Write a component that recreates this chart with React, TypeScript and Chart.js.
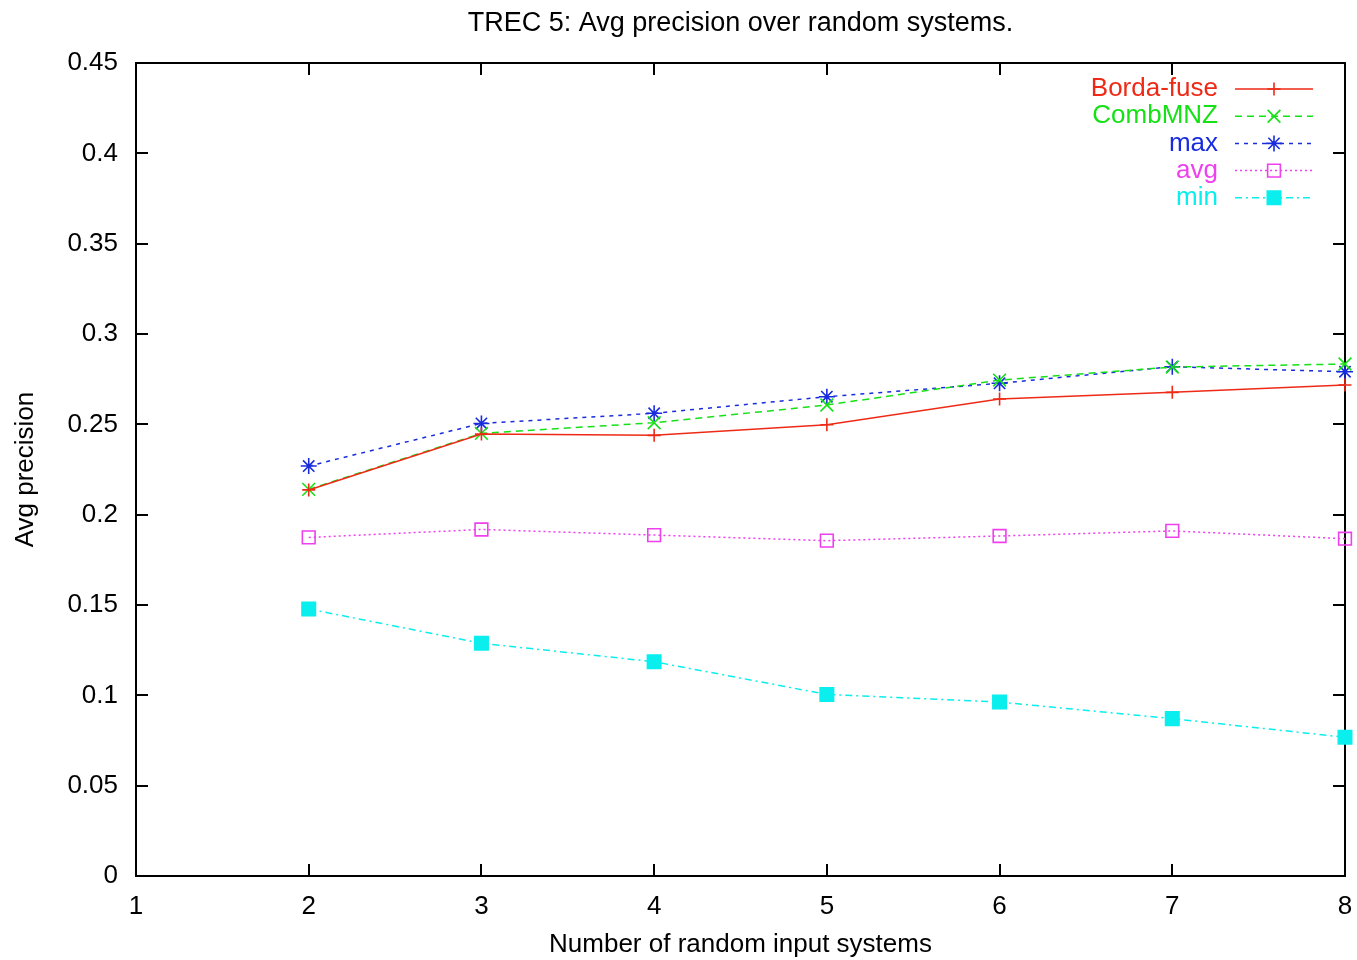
import React, { useEffect, useRef } from 'react';
import { Chart, registerables } from 'chart.js';
import { drawPoint } from 'chart.js/helpers';

Chart.register(...registerables);

const FONT = '"Liberation Sans", Arial, Helvetica, sans-serif';
const FONT_SIZE = 26;
const TITLE_SIZE = 27;

const chartTitle = 'TREC 5: Avg precision over random systems.';
const xAxisTitle = 'Number of random input systems';
const yAxisTitle = 'Avg precision';

const numSystems = [2, 3, 4, 5, 6, 7, 8];
const bordaFuse = [0.2137, 0.2446, 0.2439, 0.2498, 0.2640, 0.2677, 0.2718];
const combMNZ = [0.2140, 0.2450, 0.2509, 0.2607, 0.2745, 0.2817, 0.2834];
const maxVals = [0.2269, 0.2505, 0.2561, 0.2653, 0.2727, 0.2819, 0.2791];
const avgVals = [0.1874, 0.1918, 0.1887, 0.1856, 0.1882, 0.1910, 0.1867];
const minVals = [0.1478, 0.1288, 0.1186, 0.1005, 0.0963, 0.0871, 0.0768];

const xMin = 1;
const xMax = 8;
const yMin = 0;
const yMax = 0.45;
const yStep = 0.05;

const toPoints = (vals: number[]) => numSystems.map((x, i) => ({ x, y: vals[i] }));

const gnuplotPlugin = {
  id: 'gnuplotFrame',
  beforeDatasetsDraw(chart: any) {
    const { ctx, chartArea } = chart;
    const { left, right, top, bottom } = chartArea;
    const xs = chart.scales.x;
    const ys = chart.scales.y;
    const L = 12;
    ctx.save();
    ctx.strokeStyle = '#000';
    ctx.lineWidth = 2;
    ctx.strokeRect(left, top, right - left, bottom - top);
    ctx.beginPath();
    xs.ticks.forEach((t: any) => {
      const px = Math.round(xs.getPixelForValue(t.value));
      ctx.moveTo(px, bottom);
      ctx.lineTo(px, bottom - L);
      ctx.moveTo(px, top);
      ctx.lineTo(px, top + L);
    });
    ys.ticks.forEach((t: any) => {
      const py = Math.round(ys.getPixelForValue(t.value));
      ctx.moveTo(left, py);
      ctx.lineTo(left + L, py);
      ctx.moveTo(right, py);
      ctx.lineTo(right - L, py);
    });
    ctx.stroke();
    ctx.restore();
  },
  afterDraw(chart: any) {
    const { ctx, chartArea } = chart;
    const { left, right, top } = chartArea;
    ctx.save();
    ctx.font = `${TITLE_SIZE}px ${FONT}`;
    ctx.fillStyle = '#000';
    ctx.textAlign = 'center';
    ctx.textBaseline = 'alphabetic';
    ctx.fillText(chartTitle, (left + right) / 2, 31);

    chart.data.datasets.forEach((ds: any, i: number) => {
      const y = top + 26 + i * 27.2;
      ctx.font = `${FONT_SIZE}px ${FONT}`;
      ctx.fillStyle = ds.borderColor;
      ctx.textAlign = 'right';
      ctx.textBaseline = 'middle';
      ctx.fillText(ds.label, right - 127, y);
      ctx.strokeStyle = ds.borderColor;
      ctx.lineWidth = ds.borderWidth;
      ctx.setLineDash(ds.borderDash || []);
      ctx.beginPath();
      ctx.moveTo(right - 110, y);
      ctx.lineTo(right - 32, y);
      ctx.stroke();
      ctx.setLineDash([]);
      ctx.fillStyle = ds.pointBackgroundColor;
      ctx.strokeStyle = ds.pointBorderColor;
      ctx.lineWidth = ds.pointBorderWidth;
      drawPoint(
        ctx,
        {
          pointStyle: ds.pointStyle,
          radius: ds.pointRadius,
          rotation: 0,
          borderWidth: ds.pointBorderWidth,
        } as any,
        right - 71,
        y
      );
    });
    ctx.restore();
  },
};

export default function App() {
  const canvasRef = useRef<HTMLCanvasElement | null>(null);

  useEffect(() => {
    const canvas = canvasRef.current;
    if (!canvas) return;
    const mk = (
      label: string,
      vals: number[],
      color: string,
      dash: number[],
      pointStyle: string,
      radius: number,
      fill: string
    ) => ({
      label,
      data: toPoints(vals),
      borderColor: color,
      backgroundColor: color,
      borderWidth: 1.5,
      borderDash: dash,
      pointStyle,
      pointRadius: radius,
      pointBorderWidth: 1.6,
      pointBorderColor: color,
      pointBackgroundColor: fill,
      tension: 0,
      fill: false,
      clip: false as any,
    });

    const chart = new Chart(canvas, {
      type: 'line',
      data: {
        datasets: [
          mk('Borda-fuse', bordaFuse, 'rgb(238,42,22)', [], 'cross', 6.5, 'rgb(238,42,22)'),
          mk('CombMNZ', combMNZ, 'rgb(22,224,22)', [7, 5], 'crossRot', 9, 'rgb(22,224,22)'),
          mk('max', maxVals, 'rgb(24,44,222)', [4, 5], 'star', 8, 'rgb(24,44,222)'),
          mk('avg', avgVals, 'rgb(238,64,238)', [2, 3], 'rect', 9, 'rgba(0,0,0,0)'),
          mk('min', minVals, 'rgb(10,238,238)', [7, 4, 2, 4], 'rect', 9.5, 'rgb(10,238,238)'),
        ] as any,
      },
      options: {
        animation: false,
        responsive: false,
        devicePixelRatio: 1,
        events: [],
        layout: { padding: { left: 0, right: 12, top: 63, bottom: 0 } },
        plugins: {
          legend: { display: false },
          title: { display: false },
          tooltip: { enabled: false },
        },
        scales: {
          x: {
            type: 'linear',
            min: xMin,
            max: xMax,
            grid: { display: false },
            border: { display: false },
            ticks: {
              stepSize: 1,
              color: '#000',
              padding: 7,
              font: { family: FONT, size: FONT_SIZE },
              callback: (v: any) => String(v),
            },
            title: {
              display: true,
              text: xAxisTitle,
              color: '#000',
              font: { family: FONT, size: FONT_SIZE },
              padding: { top: 0, bottom: 0 },
            },
            afterFit: (scale: any) => {
              scale.height = 84;
              scale.paddingLeft = 0;
              scale.paddingRight = 0;
            },
          },
          y: {
            type: 'linear',
            min: yMin,
            max: yMax,
            grid: { display: false },
            border: { display: false },
            ticks: {
              stepSize: yStep,
              color: '#000',
              padding: 10,
              font: { family: FONT, size: FONT_SIZE },
              callback: (v: any) => String(+Number(v).toFixed(2)),
            },
            title: {
              display: true,
              text: yAxisTitle,
              color: '#000',
              font: { family: FONT, size: FONT_SIZE },
              padding: { top: 10, bottom: 0 },
            },
            afterFit: (scale: any) => {
              scale.width = 136;
              scale.paddingTop = 0;
              scale.paddingBottom = 0;
            },
          },
        },
      } as any,
      plugins: [gnuplotPlugin],
    });
    return () => chart.destroy();
  }, []);

  return (
    <div style={{ position: 'fixed', left: 0, top: 0, width: 1357, height: 960, background: '#fff' }}>
      <canvas ref={canvasRef} width={1357} height={960} style={{ display: 'block' }} />
    </div>
  );
}
